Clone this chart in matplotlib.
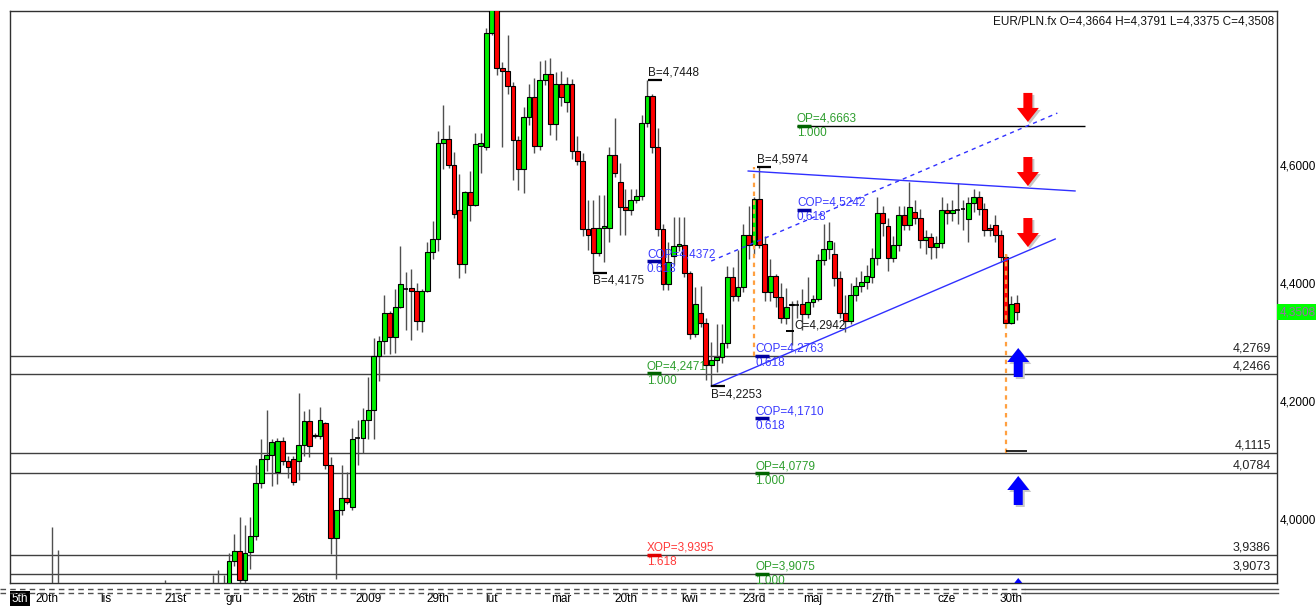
import matplotlib
matplotlib.use('Agg')
import matplotlib.pyplot as plt
from matplotlib.patches import Polygon, Rectangle
from matplotlib.lines import Line2D

plt.rcParams['font.family'] = ['Liberation Sans', 'DejaVu Sans']

# ---------------- data ----------------
opens = [3.880, 3.928, 3.945, 3.896, 3.944, 3.972, 4.061, 4.101, 4.108, 4.080,
         4.133, 4.098, 4.101, 4.099, 4.126, 4.166, 4.140, 4.141, 4.163, 4.091,
         3.967, 4.015, 4.035, 4.021, 4.136, 4.137, 4.168, 4.184, 4.276, 4.301,
         4.349, 4.308, 4.360, 4.390, 4.391, 4.387, 4.335, 4.387, 4.453, 4.474,
         4.638, 4.644, 4.600, 4.524, 4.432, 4.554, 4.533, 4.633, 4.630, 4.824,
         4.870, 4.764, 4.760, 4.734, 4.642, 4.594, 4.681, 4.715, 4.633, 4.744,
         4.755, 4.669, 4.737, 4.706, 4.737, 4.623, 4.607, 4.491, 4.494, 4.451,
         4.494, 4.494, 4.617, 4.572, 4.529, 4.524, 4.541, 4.547, 4.671, 4.717,
         4.631, 4.491, 4.399, 4.446, 4.463, 4.464, 4.417, 4.314, 4.350, 4.333,
         4.261, 4.270, 4.274, 4.298, 4.410, 4.378, 4.393, 4.481, 4.464, 4.542,
         4.466, 4.384, 4.412, 4.377, 4.340, 4.363, 4.363, 4.364, 4.348, 4.368,
         4.373, 4.439, 4.458, 4.449, 4.409, 4.350, 4.336, 4.380, 4.395, 4.402,
         4.411, 4.442, 4.519, 4.497, 4.442, 4.464, 4.515, 4.498, 4.521, 4.510,
         4.473, 4.478, 4.461, 4.467, 4.524, 4.518, 4.524, 4.525, 4.508, 4.535,
         4.545, 4.525, 4.494, 4.498, 4.481, 4.444, 4.333, 4.3664]
highs = [3.942, 3.974, 4.004, 3.990, 4.004, 4.091, 4.136, 4.185, 4.136, 4.137,
         4.139, 4.107, 4.107, 4.214, 4.183, 4.187, 4.145, 4.190, 4.165, 4.105,
         4.015, 4.091, 4.079, 4.155, 4.168, 4.188, 4.241, 4.307, 4.311, 4.379,
         4.352, 4.390, 4.463, 4.419, 4.423, 4.400, 4.390, 4.470, 4.505, 4.657,
         4.702, 4.667, 4.622, 4.584, 4.556, 4.590, 4.654, 4.654, 4.832, 4.880,
         4.875, 4.775, 4.820, 4.740, 4.650, 4.698, 4.738, 4.747, 4.777, 4.778,
         4.781, 4.758, 4.760, 4.750, 4.745, 4.650, 4.620, 4.540, 4.540, 4.549,
         4.549, 4.630, 4.679, 4.603, 4.560, 4.560, 4.560, 4.685, 4.7448, 4.720,
         4.663, 4.500, 4.470, 4.512, 4.512, 4.512, 4.420, 4.394, 4.395, 4.340,
         4.300, 4.330, 4.330, 4.429, 4.427, 4.456, 4.500, 4.530, 4.545, 4.5974,
         4.480, 4.440, 4.415, 4.400, 4.392, 4.370, 4.372, 4.390, 4.410, 4.380,
         4.450, 4.500, 4.504, 4.470, 4.420, 4.380, 4.400, 4.410, 4.420, 4.430,
         4.460, 4.546, 4.530, 4.510, 4.480, 4.530, 4.530, 4.572, 4.540, 4.525,
         4.490, 4.485, 4.480, 4.545, 4.535, 4.540, 4.569, 4.540, 4.545, 4.559,
         4.556, 4.535, 4.500, 4.515, 4.490, 4.450, 4.378, 4.3791]
lows = [3.870, 3.920, 3.885, 3.888, 3.916, 3.964, 4.053, 4.082, 4.056, 4.059,
        4.092, 4.070, 4.058, 4.066, 4.107, 4.105, 4.138, 4.135, 4.085, 3.940,
        3.8975, 4.006, 4.025, 4.015, 4.091, 4.112, 4.136, 4.136, 4.234, 4.279,
        4.279, 4.282, 4.358, 4.320, 4.304, 4.320, 4.317, 4.384, 4.441, 4.454,
        4.594, 4.595, 4.510, 4.409, 4.417, 4.505, 4.530, 4.586, 4.625, 4.820,
        4.752, 4.631, 4.720, 4.575, 4.558, 4.552, 4.668, 4.620, 4.625, 4.735,
        4.651, 4.642, 4.700, 4.690, 4.610, 4.600, 4.480, 4.456, 4.4175, 4.445,
        4.436, 4.470, 4.580, 4.481, 4.481, 4.515, 4.535, 4.540, 4.665, 4.620,
        4.480, 4.388, 4.388, 4.430, 4.455, 4.410, 4.305, 4.309, 4.325, 4.236,
        4.2253, 4.250, 4.265, 4.290, 4.370, 4.370, 4.385, 4.440, 4.450, 4.460,
        4.370, 4.370, 4.360, 4.333, 4.330, 4.2942, 4.340, 4.320, 4.340, 4.360,
        4.370, 4.430, 4.440, 4.395, 4.340, 4.317, 4.330, 4.370, 4.385, 4.390,
        4.400, 4.430, 4.480, 4.420, 4.435, 4.455, 4.490, 4.490, 4.500, 4.460,
        4.450, 4.440, 4.442, 4.460, 4.500, 4.505, 4.500, 4.490, 4.470, 4.520,
        4.515, 4.480, 4.480, 4.470, 4.435, 4.330, 4.330, 4.3375]
closes = [3.928, 3.945, 3.896, 3.942, 3.972, 4.061, 4.101, 4.108, 4.131, 4.133,
          4.098, 4.088, 4.063, 4.126, 4.166, 4.123, 4.142, 4.168, 4.091, 3.967,
          4.015, 4.035, 4.028, 4.136, 4.137, 4.168, 4.184, 4.276, 4.301, 4.349,
          4.308, 4.360, 4.398, 4.391, 4.387, 4.335, 4.387, 4.453, 4.474, 4.638,
          4.644, 4.600, 4.517, 4.432, 4.554, 4.533, 4.635, 4.638, 4.824, 4.870,
          4.764, 4.760, 4.734, 4.642, 4.594, 4.681, 4.715, 4.633, 4.744, 4.755,
          4.669, 4.737, 4.715, 4.737, 4.623, 4.607, 4.491, 4.481, 4.451, 4.494,
          4.496, 4.617, 4.587, 4.529, 4.524, 4.541, 4.547, 4.671, 4.717, 4.631,
          4.491, 4.399, 4.435, 4.463, 4.466, 4.417, 4.314, 4.364, 4.333, 4.261,
          4.270, 4.274, 4.298, 4.410, 4.378, 4.393, 4.481, 4.464, 4.542, 4.464,
          4.384, 4.412, 4.377, 4.340, 4.360, 4.365, 4.364, 4.348, 4.368, 4.373,
          4.439, 4.458, 4.472, 4.409, 4.350, 4.336, 4.380, 4.395, 4.402, 4.412,
          4.442, 4.519, 4.502, 4.443, 4.464, 4.515, 4.498, 4.529, 4.510, 4.473,
          4.478, 4.461, 4.467, 4.524, 4.518, 4.524, 4.525, 4.526, 4.535, 4.545,
          4.525, 4.489, 4.489, 4.481, 4.444, 4.333, 4.364, 4.3508]

# earlier sessions (mostly below the visible price range)
early_idx = [-33, -32, -12, -3, -2, -1]
early_open = [3.850, 3.845, 3.850, 3.860, 3.862, 3.865]
early_high = [3.986, 3.947, 3.897, 3.905, 3.913, 3.905]
early_low = [3.830, 3.830, 3.840, 3.845, 3.850, 3.850]
early_close = [3.855, 3.850, 3.852, 3.862, 3.865, 3.870]

tick_pos = [-39, -34, -23, -10, 1, 14, 26, 39, 49, 62, 74, 86, 98, 109, 122, 134, 146]
tick_labels = ['5th', '20th', 'lis', '21st', 'gru', '26th', '2009', '29th', 'lut',
               'mar', '20th', 'kwi', '23rd', 'maj', '27th', 'cze', '30th']
price_ticks = [4.0, 4.2, 4.4, 4.6]
price_tick_labels = ['4,0000', '4,2000', '4,4000', '4,6000']

levels = [4.2769, 4.2466, 4.1115, 4.0784, 3.9386, 3.9073]
level_labels = ['4,2769', '4,2466', '4,1115', '4,0784', '3,9386', '3,9073']

# fibonacci projection labels: text, ratio, level, bar index, kind
fib_text = ['OP=4,6663', 'COP=4,5242', 'COP=4,4372', 'OP=4,2471', 'COP=4,2763',
            'COP=4,1710', 'OP=4,0779', 'OP=3,9075', 'XOP=3,9395']
fib_ratio = ['1.000', '0.618', '0.618', '1.000', '0.618', '0.618', '1.000', '1.000', '1.618']
fib_level = [4.6663, 4.5242, 4.4372, 4.2471, 4.2763, 4.1710, 4.0779, 3.9075, 3.9395]
fib_x = [106, 106, 78, 78, 98.2, 98.2, 98.2, 98.2, 78]
fib_kind = ['op', 'cop', 'cop', 'op', 'cop', 'cop', 'op', 'op', 'xop']

# swing point labels
swing_text = ['B=4,7448', 'B=4,4175', 'B=4,5974', 'B=4,2253', 'C=4,2942']
swing_level = [4.7448, 4.4175, 4.5974, 4.2253, 4.2942]
swing_x = [78.2, 68.0, 98.5, 90.0, 105.5]
swing_pos = ['above', 'below', 'above', 'below', 'high']

header = 'EUR/PLN.fx O=4,3664 H=4,3791 L=4,3375 C=4,3508'
last_label = '4,3508'

# ---------------- figure ----------------
W, H = 1316, 607
fig = plt.figure(figsize=(W / 100, H / 100), dpi=100)
ax_left, ax_right, ax_top, ax_bot = 10, 1277, 11, 583
ax = fig.add_axes([ax_left / W, 1 - ax_bot / H, (ax_right - ax_left) / W, (ax_bot - ax_top) / H])

X0PX, DXPX = 229.0, 5.358          # pixel of bar 0, pixels per bar
PY = 1 / 590.0                     # price per pixel
PX = 1 / DXPX                      # bars per pixel
ymin = 4.6 - (ax_bot - 165) * PY
ymax = 4.6 + (165 - ax_top) * PY
ax.set_xlim((ax_left - X0PX) * PX, (ax_right - X0PX) * PX)
ax.set_ylim(ymin, ymax)

GREEN, RED = '#00EE00', '#FF0000'


def draw_candles(idx, o, h, l, c):
    for x, oo, hh, ll, cc in zip(idx, o, h, l, c):
        ax.vlines(x, ll, hh, color='#505050', lw=1, zorder=3)
        bot, top = min(oo, cc), max(oo, cc)
        col = GREEN if cc >= oo else RED
        if top - bot < 0.0012:
            ax.hlines((oo + cc) / 2, x - 0.45, x + 0.45, color='black', lw=1.2, zorder=4)
        else:
            ax.add_patch(Rectangle((x - 0.45, bot), 0.9, top - bot, facecolor=col,
                                   edgecolor='black', lw=0.8, zorder=4))


draw_candles(early_idx, early_open, early_high, early_low, early_close)
draw_candles(list(range(len(opens))), opens, highs, lows, closes)

# horizontal support/resistance levels
xl = ax.get_xlim()
for lv, lb in zip(levels, level_labels):
    ax.axhline(lv, color='#404040', lw=1, zorder=2)
    ax.text(xl[1] - 6 * PX, lv + 1.5 * PY, lb, ha='right', va='bottom', fontsize=9, color='#222222')

# OP 4.6663 line
ax.hlines(4.6663, 106, 159.8, color='black', lw=1, zorder=2)

# channel / triangle lines
ax.plot([90, 154.2], [4.2253, 4.4746], color='#3030FF', lw=1, zorder=5)
ax.plot([90, 154.6], [4.4372, 4.688], color='#3030FF', lw=1, ls=(0, (3, 3)), zorder=5)
ax.plot([96.9, 157.9], [4.5898, 4.556], color='#3030FF', lw=1, zorder=5)

# orange projection verticals
ax.vlines(98, 4.2763, 4.5974, color='#FFA040', lw=1.6, ls=(0, (2, 2)), zorder=6)
ax.vlines(145, 4.1115, 4.450, color='#FFA040', lw=1.6, ls=(0, (2, 2)), zorder=6)
ax.hlines(4.1145, 145, 149, color='black', lw=1.2, zorder=6)

# fib labels
kind_col = {'op': ('#2E9E2E', '#006400'), 'cop': ('#3A3AFF', '#0000A0'), 'xop': ('#FF3A3A', '#E00000')}
for t, r, lv, x, k in zip(fib_text, fib_ratio, fib_level, fib_x, fib_kind):
    tc, uc = kind_col[k]
    ax.text(x, lv + 1 * PY, t, ha='left', va='bottom', fontsize=8.5, color=tc, zorder=7)
    ax.text(x, lv - 1.5 * PY, r, ha='left', va='top', fontsize=8.5, color=tc, zorder=7)
    ax.hlines(lv, x, x + 2.6, color=uc, lw=2.5, zorder=7)

# swing labels
for t, lv, x, pos in zip(swing_text, swing_level, swing_x, swing_pos):
    if pos == 'above':
        ax.text(x, lv + 1.5 * PY, t, ha='left', va='bottom', fontsize=8.5, color='#1a1a1a', zorder=7)
        ax.hlines(lv, x, x + 2.6, color='black', lw=1.6, zorder=7)
    elif pos == 'below':
        ax.text(x, lv - 2 * PY, t, ha='left', va='top', fontsize=8.5, color='#1a1a1a', zorder=7)
        ax.hlines(lv, x, x + 2.6, color='black', lw=1.6, zorder=7)
    else:
        ax.text(x, lv + 14 * PY, t, ha='left', va='bottom', fontsize=8.5, color='#1a1a1a', zorder=7)
        ax.hlines(lv + 14 * PY, x - 1.5, x, color='black', lw=1.4, zorder=7)

# arrows
arrow_x = [149.1, 149.1, 149.1, 147.3, 147.3, 147.3]
arrow_tip = [4.673, 4.5644, 4.461, 4.2898, 4.0729, 3.900]
arrow_dir = [-1, -1, -1, 1, 1, 1]
for x, tip, d in zip(arrow_x, arrow_tip, arrow_dir):
    col = '#FF0000' if d < 0 else '#0000FF'
    hw, sw, hh, tot = 11 * PX, 4.5 * PX, 14 * PY, 29 * PY
    base = tip - d * tot
    neck = tip - d * hh
    pts = [(x - sw, base), (x + sw, base), (x + sw, neck), (x + hw, neck), (x, tip),
           (x - hw, neck), (x - sw, neck)]
    sh = [(px + 2 * PX, py - 2 * PY) for px, py in pts]
    ax.add_patch(Polygon(sh, closed=True, facecolor='#C8C8C8', edgecolor='none', zorder=7))
    ax.add_patch(Polygon(pts, closed=True, facecolor=col, edgecolor='none', zorder=8))

# axes styling
for s in ax.spines.values():
    s.set_color('#303030')
    s.set_linewidth(1)
ax.yaxis.tick_right()
ax.set_yticks(price_ticks)
ax.set_yticklabels(price_tick_labels, fontsize=8.5)
ax.tick_params(axis='y', length=0, pad=2)
ax.set_xticks(tick_pos)
ax.set_xticklabels(tick_labels, fontsize=8.5)
ax.tick_params(axis='x', length=0, pad=7)
tl = ax.get_xticklabels()[0]
tl.set_color('white')
tl.set_bbox(dict(facecolor='black', edgecolor='none', pad=1.2))

# last price box
ax.text(1.002, 4.3508, last_label, transform=ax.get_yaxis_transform(), ha='left', va='center',
        fontsize=8.5, color='#9A6AAA', bbox=dict(facecolor='#00FF00', edgecolor='none', pad=1.5))

# header
ax.text(0.998, 0.992, header, transform=ax.transAxes, ha='right', va='top', fontsize=8.5, color='#111111')

# separator strip below the chart
for yy in (589, 592.5):
    fig.add_artist(Line2D([0, 1025 / W], [1 - yy / H] * 2, color='#505050', lw=1, ls=(0, (4, 3))))
    fig.add_artist(Line2D([1025 / W, 1278 / W], [1 - yy / H] * 2, color='#505050', lw=1))

fig.savefig('out.png', dpi=100)
